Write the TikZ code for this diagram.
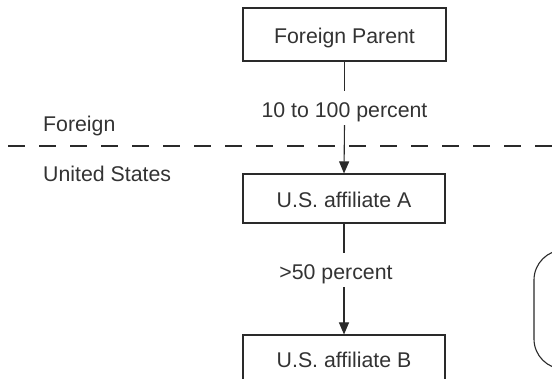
\documentclass[tikz,border=0pt]{standalone}
\usepackage{fontspec}
\setmainfont{Liberation Sans}
\usetikzlibrary{arrows.meta}
\definecolor{ink}{HTML}{333333}
\definecolor{linec}{HTML}{2A2A2A}
\begin{document}
\begin{tikzpicture}[x=1pt,y=-1pt,
  every node/.style={font=\fontsize{21.3}{24}\selectfont, text=ink},
  box/.style={draw=linec, line width=1.1pt, inner sep=0pt, text height=19pt, text depth=0pt},
  lab/.style={inner sep=0pt, text height=27pt, text depth=7pt, anchor=base},
  conn/.style={draw=linec, line width=1.1pt},
  arr/.style={conn, -{Triangle[length=12pt,width=10pt]}},
  region/.style={anchor=base west, inner sep=0pt}]
\useasboundingbox (0,0) rectangle (552,379);
\clip (0,0) rectangle (552,379);
\fill[white] (0,0) rectangle (552,379);
% boxes
\node[box, minimum width=203pt, minimum height=53pt] (fp) at (344.5,34.5) {Foreign Parent};
\node[box, minimum width=202pt, minimum height=49pt] (a) at (344,198.5) {U.S. affiliate A};
\node[box, minimum width=202pt, minimum height=47pt] (b) at (344,358.5) {U.S. affiliate B};
\node[draw=linec, line width=1.1pt, rounded corners=30pt, minimum width=120pt, minimum height=119pt, inner sep=0pt] (r) at (594,309.5) {};
% labels
\node[lab] (l1) at (344.5,118) {10 to 100 percent};
\node[lab] (l2) at (336,280) {>50 percent};
% region labels
\node[region] (fo) at (43,132) {Foreign};
\node[region] (us) at (43,181.5) {United States};
% dashed border
\coordinate (dl) at (8,146);
\coordinate (dr) at (560,146);
\draw[draw=linec, line width=1.1pt, dash pattern=on 17pt off 14pt] (dl) -- (dr);
% connectors
\draw[conn] (fp.south) -- (fp.south |- l1.north);
\draw[arr] (fp.south |- l1.south) -- (a.north);
\draw[conn] (a.south) -- (a.south |- l2.north);
\draw[arr] (a.south |- l2.south) -- (b.north);
\end{tikzpicture}
\end{document}
